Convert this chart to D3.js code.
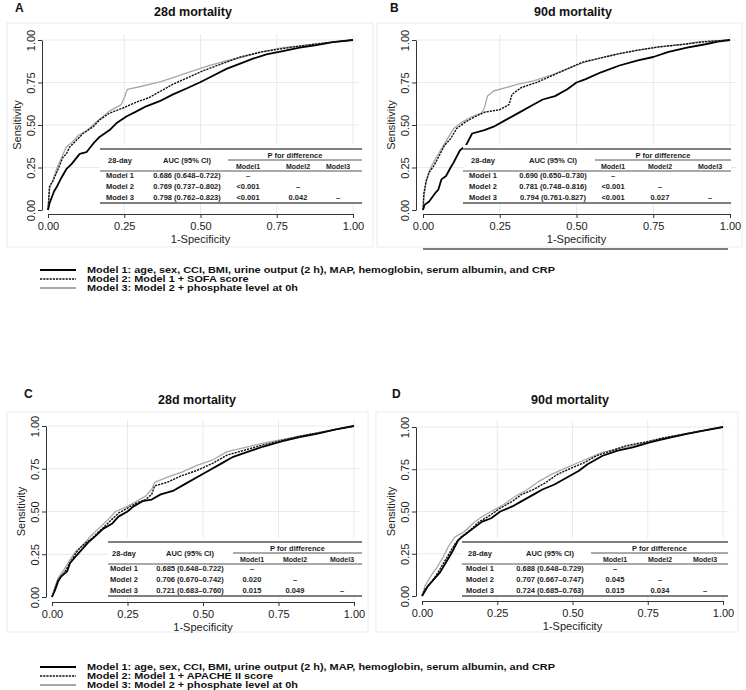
<!DOCTYPE html>
<html><head><meta charset="utf-8">
<script src="https://cdn.jsdelivr.net/npm/d3@7"></script>
<style>
body{margin:0;background:#fff;}
svg{display:block;font-family:"Liberation Sans",Arial,sans-serif;}
</style></head>
<body>
<svg id="chart" width="746" height="690"></svg>
<script>
// ---------------- DATA ----------------
const panelLetters = ["A", "B", "C", "D"];
const panelTitles = ["28d mortality", "90d mortality", "28d mortality", "90d mortality"];
const axisTicks = [0, 0.25, 0.5, 0.75, 1];
const tickLabels = ["0.00", "0.25", "0.50", "0.75", "1.00"];
const xAxisTitle = "1-Specificity";
const yAxisTitle = "Sensitivity";
const modelNames = ["Model 1", "Model 2", "Model 3"];
const tableHeader = ["28-day", "AUC (95% CI)", "P for difference", "Model1", "Model2", "Model3"];

const aucA = ["0.686 (0.648–0.722)", "0.769 (0.737–0.802)", "0.798 (0.762–0.823)"];
const aucB = ["0.690 (0.650–0.730)", "0.781 (0.748–0.816)", "0.794 (0.761-0.827)"];
const aucC = ["0.685 (0.648–0.722)", "0.706 (0.670–0.742)", "0.721 (0.683–0.760)"];
const aucD = ["0.688 (0.648–0.729)", "0.707 (0.667–0.747)", "0.724 (0.685–0.763)"];

const pA = [["–", "", ""], ["<0.001", "–", ""], ["<0.001", "0.042", "–"]];
const pB = [["–", "", ""], ["<0.001", "–", ""], ["<0.001", "0.027", "–"]];
const pC = [["–", "", ""], ["0.020", "–", ""], ["0.015", "0.049", "–"]];
const pD = [["–", "", ""], ["0.045", "–", ""], ["0.015", "0.034", "–"]];

const legendTop = [
  "Model 1: age, sex, CCI, BMI, urine output (2 h), MAP, hemoglobin, serum albumin, and CRP",
  "Model 2: Model 1 + SOFA score",
  "Model 3: Model 2 + phosphate level at 0h"
];
const legendBottom = [
  "Model 1: age, sex, CCI, BMI, urine output (2 h), MAP, hemoglobin, serum albumin, and CRP",
  "Model 2: Model 1 + APACHE II score",
  "Model 3: Model 2 + phosphate level at 0h"
];

// ROC curves [1-specificity, sensitivity]
const rocA1 = [[0,0],[0.005,0.04],[0.02,0.11],[0.03,0.14],[0.044,0.19],[0.06,0.24],[0.077,0.27],[0.104,0.33],[0.126,0.34],[0.148,0.39],[0.169,0.43],[0.202,0.47],[0.224,0.51],[0.257,0.55],[0.29,0.58],[0.322,0.61],[0.366,0.64],[0.41,0.68],[0.454,0.715],[0.497,0.75],[0.541,0.79],[0.585,0.83],[0.628,0.86],[0.672,0.89],[0.716,0.915],[0.77,0.935],[0.825,0.955],[0.88,0.97],[0.934,0.987],[1,1]];
const rocA2 = [[0,0],[0.005,0.14],[0.016,0.17],[0.033,0.24],[0.049,0.31],[0.06,0.33],[0.071,0.37],[0.093,0.41],[0.115,0.45],[0.148,0.49],[0.169,0.53],[0.202,0.57],[0.246,0.6],[0.29,0.635],[0.33,0.66],[0.37,0.7],[0.41,0.74],[0.46,0.78],[0.51,0.82],[0.57,0.86],[0.63,0.9],[0.7,0.93],[0.77,0.95],[0.85,0.97],[0.92,0.985],[1,1]];
const rocA3 = [[0,0],[0.005,0.12],[0.03,0.25],[0.06,0.37],[0.08,0.4],[0.1,0.44],[0.13,0.47],[0.16,0.52],[0.2,0.58],[0.24,0.62],[0.25,0.66],[0.26,0.71],[0.3,0.725],[0.37,0.755],[0.42,0.785],[0.47,0.815],[0.52,0.845],[0.58,0.875],[0.64,0.9],[0.7,0.93],[0.77,0.955],[0.85,0.97],[0.92,0.985],[1,1]];

const rocB1 = [[0,0],[0.005,0.03],[0.02,0.05],[0.04,0.1],[0.05,0.12],[0.06,0.18],[0.075,0.2],[0.09,0.25],[0.1,0.28],[0.12,0.35],[0.14,0.38],[0.16,0.45],[0.2,0.47],[0.23,0.49],[0.27,0.53],[0.31,0.57],[0.35,0.61],[0.39,0.65],[0.43,0.67],[0.47,0.71],[0.5,0.75],[0.53,0.77],[0.58,0.81],[0.64,0.85],[0.7,0.88],[0.75,0.9],[0.8,0.93],[0.86,0.955],[0.92,0.975],[0.96,0.99],[1,1]];
const rocB2 = [[0,0],[0.003,0.1],[0.01,0.17],[0.02,0.22],[0.035,0.26],[0.05,0.31],[0.07,0.38],[0.09,0.42],[0.11,0.48],[0.14,0.52],[0.17,0.55],[0.2,0.575],[0.25,0.59],[0.28,0.62],[0.29,0.68],[0.32,0.72],[0.37,0.75],[0.42,0.79],[0.47,0.83],[0.52,0.87],[0.58,0.895],[0.64,0.92],[0.7,0.94],[0.77,0.96],[0.85,0.975],[0.92,0.99],[1,1]];
const rocB3 = [[0,0],[0.003,0.08],[0.01,0.16],[0.02,0.23],[0.04,0.3],[0.06,0.36],[0.08,0.42],[0.1,0.48],[0.13,0.52],[0.16,0.55],[0.19,0.57],[0.2,0.6],[0.21,0.67],[0.23,0.7],[0.27,0.72],[0.31,0.74],[0.36,0.76],[0.42,0.795],[0.47,0.83],[0.52,0.865],[0.58,0.895],[0.64,0.92],[0.7,0.94],[0.77,0.96],[0.85,0.975],[0.9,0.99],[1,1]];

const rocC1 = [[0,0],[0.01,0.04],[0.02,0.09],[0.03,0.12],[0.05,0.15],[0.06,0.2],[0.08,0.24],[0.1,0.28],[0.12,0.32],[0.14,0.35],[0.17,0.4],[0.2,0.43],[0.22,0.47],[0.25,0.5],[0.27,0.53],[0.3,0.56],[0.33,0.57],[0.36,0.6],[0.4,0.62],[0.44,0.66],[0.48,0.7],[0.52,0.74],[0.56,0.78],[0.6,0.82],[0.65,0.85],[0.7,0.88],[0.76,0.91],[0.82,0.935],[0.88,0.955],[0.94,0.98],[1,1]];
const rocC2 = [[0,0],[0.01,0.05],[0.02,0.1],[0.04,0.14],[0.06,0.2],[0.08,0.26],[0.1,0.3],[0.13,0.34],[0.16,0.39],[0.19,0.44],[0.22,0.49],[0.25,0.52],[0.28,0.55],[0.31,0.57],[0.33,0.6],[0.34,0.65],[0.38,0.67],[0.43,0.71],[0.48,0.74],[0.53,0.78],[0.58,0.83],[0.63,0.855],[0.7,0.89],[0.76,0.915],[0.82,0.94],[0.88,0.96],[0.94,0.98],[1,1]];
const rocC3 = [[0,0],[0.01,0.06],[0.02,0.11],[0.04,0.16],[0.06,0.22],[0.08,0.27],[0.1,0.3],[0.13,0.36],[0.16,0.41],[0.19,0.46],[0.21,0.5],[0.25,0.53],[0.28,0.56],[0.31,0.59],[0.33,0.63],[0.34,0.67],[0.38,0.7],[0.43,0.73],[0.48,0.77],[0.53,0.8],[0.58,0.85],[0.63,0.87],[0.7,0.9],[0.76,0.92],[0.82,0.94],[0.88,0.96],[0.94,0.98],[1,1]];

const rocD1 = [[0,0],[0.01,0.03],[0.02,0.06],[0.04,0.1],[0.06,0.14],[0.08,0.2],[0.1,0.26],[0.12,0.33],[0.14,0.36],[0.17,0.4],[0.2,0.44],[0.23,0.46],[0.26,0.5],[0.3,0.53],[0.33,0.56],[0.37,0.6],[0.4,0.63],[0.44,0.66],[0.48,0.7],[0.52,0.74],[0.55,0.78],[0.6,0.83],[0.65,0.86],[0.7,0.88],[0.76,0.91],[0.82,0.935],[0.88,0.96],[0.94,0.98],[1,1]];
const rocD2 = [[0,0],[0.01,0.04],[0.03,0.08],[0.05,0.13],[0.07,0.19],[0.09,0.25],[0.11,0.31],[0.13,0.35],[0.16,0.39],[0.19,0.44],[0.22,0.47],[0.26,0.52],[0.3,0.56],[0.33,0.6],[0.37,0.63],[0.41,0.67],[0.45,0.72],[0.5,0.76],[0.54,0.79],[0.58,0.83],[0.63,0.86],[0.68,0.89],[0.74,0.91],[0.8,0.935],[0.86,0.955],[0.92,0.975],[1,1]];
const rocD3 = [[0,0],[0.01,0.06],[0.03,0.12],[0.05,0.17],[0.07,0.23],[0.09,0.3],[0.11,0.35],[0.14,0.38],[0.17,0.43],[0.2,0.47],[0.23,0.5],[0.27,0.54],[0.31,0.59],[0.35,0.63],[0.39,0.68],[0.43,0.72],[0.48,0.76],[0.52,0.79],[0.56,0.82],[0.6,0.85],[0.65,0.87],[0.7,0.89],[0.76,0.915],[0.82,0.94],[0.88,0.96],[0.94,0.98],[1,1]];

// ---------------- LAYOUT ----------------
const svg = d3.select("#chart");
const FONT = '"Liberation Sans", Arial, sans-serif';

const panels = [
  {letter: panelLetters[0], title: panelTitles[0], curves: [rocA1, rocA2, rocA3], auc: aucA, p: pA,
   box: [7, 23, 373, 247], x0: 48, x1: 353, y0: 210, y1: 40, yAxisX: 42, xAxisY: 214,
   letterXY: [15, 12], titleX: 193, titleY: 16,
   tab: {left: 52, right: 314, top: 149, lab: 72, auc: 139, c: [200, 250, 290], ul: 180}, extraLine: false},
  {letter: panelLetters[1], title: panelTitles[1], curves: [rocB1, rocB2, rocB3], auc: aucB, p: pB,
   box: [377, 23, 742, 247], x0: 423, x1: 730, y0: 210, y1: 40, yAxisX: 416, xAxisY: 214,
   letterXY: [390, 12], titleX: 573, titleY: 16,
   tab: {left: 40, right: 308, top: 149, lab: 60, auc: 130, c: [190, 237, 287], ul: 172}, extraLine: true},
  {letter: panelLetters[2], title: panelTitles[2], curves: [rocC1, rocC2, rocC3], auc: aucC, p: pC,
   box: [7, 412, 368, 632], x0: 52, x1: 354, y0: 597, y1: 426, yAxisX: 46, xAxisY: 602,
   letterXY: [24, 398], titleX: 197, titleY: 404,
   tab: {left: 56, right: 310, top: 542, lab: 72, auc: 138, c: [200, 243, 290], ul: 181}, extraLine: false},
  {letter: panelLetters[3], title: panelTitles[3], curves: [rocD1, rocD2, rocD3], auc: aucD, p: pD,
   box: [376, 412, 738, 632], x0: 422, x1: 723, y0: 596, y1: 427, yAxisX: 416, xAxisY: 601,
   letterXY: [392, 398], titleX: 570, titleY: 404,
   tab: {left: 40, right: 306, top: 542, lab: 58, auc: 128, c: [193, 238, 283], ul: 169}, extraLine: false}
];

const styles = [
  {stroke: "#000", width: 1.8, dash: null},
  {stroke: "#111", width: 1.4, dash: "2.2,1"},
  {stroke: "#a8a8a8", width: 1.3, dash: null}
];

panels.forEach(P => {
  const g = svg.append("g");
  g.append("rect").attr("x", P.box[0]).attr("y", P.box[1])
    .attr("width", P.box[2] - P.box[0]).attr("height", P.box[3] - P.box[1])
    .attr("fill", "none").attr("stroke", "#ececec").attr("stroke-width", 1);

  g.append("text").attr("x", P.letterXY[0]).attr("y", P.letterXY[1]).text(P.letter)
    .attr("font-size", 12).attr("font-weight", "bold").attr("fill", "#111");
  g.append("text").attr("x", P.titleX).attr("y", P.titleY).text(P.title)
    .attr("text-anchor", "middle").attr("font-size", 12.5).attr("font-weight", "bold").attr("fill", "#111");

  const x = d3.scaleLinear().domain([0, 1]).range([P.x0, P.x1]);
  const y = d3.scaleLinear().domain([0, 1]).range([P.y0, P.y1]);

  const gridRight = P.x1 + 6, gridTop = P.y1 - 6;
  g.append("g").selectAll("line").data(axisTicks.slice(1)).join("line")
    .attr("x1", P.yAxisX).attr("x2", gridRight).attr("y1", d => y(d)).attr("y2", d => y(d))
    .attr("stroke", "#e4ecee").attr("stroke-width", 1);
  g.append("g").selectAll("line").data(axisTicks.slice(1)).join("line")
    .attr("y1", P.xAxisY).attr("y2", gridTop).attr("x1", d => x(d)).attr("x2", d => x(d))
    .attr("stroke", "#e4ecee").attr("stroke-width", 1);

  const yAxis = d3.axisLeft(y).tickValues(axisTicks).tickFormat((d, i) => tickLabels[i])
    .tickSize(4).tickSizeOuter(0);
  const ya = g.append("g").attr("transform", `translate(${P.yAxisX},0)`).call(yAxis);
  ya.select(".domain").attr("stroke", "#333");
  ya.selectAll(".tick line").attr("stroke", "#333");
  ya.selectAll(".tick text").attr("x", 0).attr("y", -7).attr("dy", 0)
    .attr("transform", "rotate(-90)").attr("text-anchor", "middle")
    .attr("font-size", 11).attr("font-family", FONT).attr("fill", "#222");

  const xAxis = d3.axisBottom(x).tickValues(axisTicks).tickFormat((d, i) => tickLabels[i])
    .tickSize(4).tickSizeOuter(0);
  const xa = g.append("g").attr("transform", `translate(0,${P.xAxisY})`).call(xAxis);
  xa.select(".domain").attr("stroke", "#333");
  xa.selectAll(".tick line").attr("stroke", "#333");
  xa.selectAll(".tick text").attr("y", 8).attr("dy", "0.71em")
    .attr("font-size", 11).attr("font-family", FONT).attr("fill", "#222");

  g.append("text").attr("x", x(0.5)).attr("y", P.xAxisY + 29).text(xAxisTitle)
    .attr("text-anchor", "middle").attr("font-size", 11).attr("fill", "#222");
  g.append("text").attr("transform", `translate(${P.yAxisX - 21},${(P.y0 + P.y1) / 2}) rotate(-90)`)
    .text(yAxisTitle).attr("text-anchor", "middle").attr("font-size", 11).attr("fill", "#222");

  const line = d3.line().x(d => x(d[0])).y(d => y(d[1]));
  [2, 0, 1].forEach(i => {
    const s = styles[i];
    g.append("path").datum(P.curves[i]).attr("d", line)
      .attr("fill", "none").attr("stroke", s.stroke).attr("stroke-width", s.width)
      .attr("stroke-dasharray", s.dash).attr("stroke-linejoin", "round");
  });

  // table
  const T = P.tab;
  const tg = g.append("g").attr("font-size", 7.5).attr("font-weight", "bold").attr("fill", "#222");
  const L = P.x0 + T.left, R = P.x0 + T.right;
  const ty = T.top;
  tg.append("rect").attr("x", L).attr("y", ty - 4).attr("width", R - L).attr("height", 58).attr("fill", "#fff");
  const hl = (x1, x2, yy, w) => tg.append("line").attr("x1", x1).attr("x2", x2).attr("y1", yy).attr("y2", yy)
    .attr("stroke", "#555").attr("stroke-width", w);
  hl(L, R, ty, 1.4);
  hl(P.x0 + T.ul, R, ty + 11, 1);
  hl(L, R, ty + 22, 1.2);
  hl(L, R, ty + 54, 1.4);
  tg.append("text").attr("x", P.x0 + T.lab).attr("y", ty + 14).attr("text-anchor", "middle").text(tableHeader[0]);
  tg.append("text").attr("x", P.x0 + T.auc).attr("y", ty + 14).attr("text-anchor", "middle").text(tableHeader[1]);
  tg.append("text").attr("x", (P.x0 + T.ul + R) / 2).attr("y", ty + 8.5).attr("text-anchor", "middle").text(tableHeader[2]);
  T.c.forEach((cx, j) => tg.append("text").attr("x", P.x0 + cx).attr("y", ty + 19.5).attr("text-anchor", "middle")
    .attr("font-size", 7).text(tableHeader[3 + j]));
  const rowY = [ty + 29, ty + 40, ty + 50.5];
  modelNames.forEach((m, r) => {
    tg.append("text").attr("x", P.x0 + T.lab).attr("y", rowY[r]).attr("text-anchor", "middle").text(m);
    tg.append("text").attr("x", P.x0 + T.auc).attr("y", rowY[r]).attr("text-anchor", "middle").text(P.auc[r]);
    P.p[r].forEach((v, j) => {
      if (v) tg.append("text").attr("x", P.x0 + T.c[j]).attr("y", rowY[r]).attr("text-anchor", "middle").text(v);
    });
  });

  if (P.extraLine) {
    g.append("line").attr("x1", P.x0).attr("x2", P.x1 - 2).attr("y1", 249).attr("y2", 249)
      .attr("stroke", "#555").attr("stroke-width", 1.3);
  }
});

// legends
function legend(texts, top, step) {
  const lg = svg.append("g");
  const nodes = [];
  texts.forEach((t, i) => {
    const yy = top + i * step;
    const s = styles[i];
    lg.append("line").attr("x1", 40).attr("x2", 76).attr("y1", yy).attr("y2", yy)
      .attr("stroke", s.stroke).attr("stroke-width", i === 1 ? 1.5 : 2).attr("stroke-dasharray", s.dash);
    nodes.push(lg.append("text").attr("x", 87).attr("y", yy + 3.3).text(t)
      .attr("font-size", 9.3).attr("font-weight", "bold").attr("fill", "#111"));
  });
  // stretch horizontally so the first line spans the same width as in the figure
  const w0 = nodes[0].node().getComputedTextLength();
  const k = 468 / w0;
  nodes.forEach(n => {
    const w = n.node().getComputedTextLength();
    n.attr("textLength", w * k).attr("lengthAdjust", "spacingAndGlyphs");
  });
}
legend(legendTop, 270, 9);
legend(legendBottom, 667, 9);
</script>
</body></html>
